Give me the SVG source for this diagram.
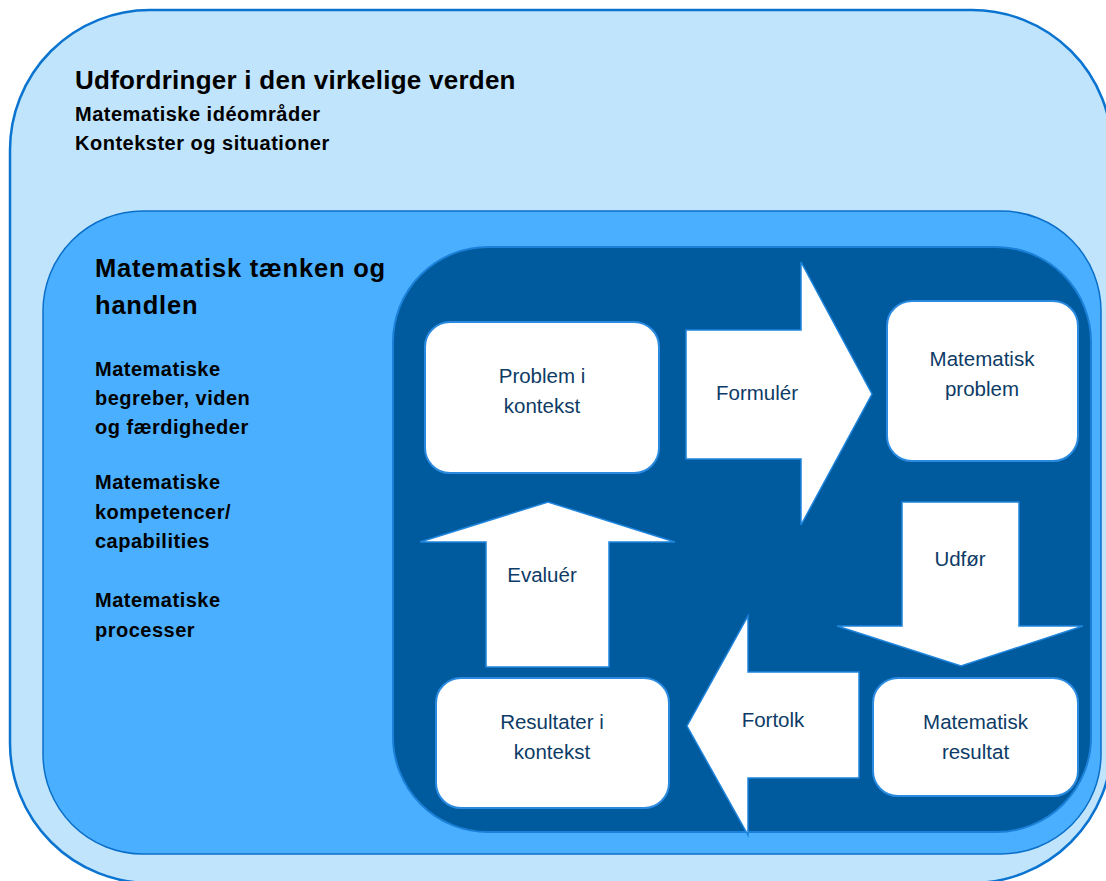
<svg xmlns="http://www.w3.org/2000/svg" width="1106" height="881" viewBox="0 0 1106 881">
<style>
.hb{font-family:"Liberation Sans",Arial,sans-serif;font-weight:bold;fill:#000}
.sub{font-size:20px;letter-spacing:0.5px}
.box{fill:#fff;stroke:#2a8ae0;stroke-width:2}
.arr{fill:#fff;stroke:#1e84dc;stroke-width:1.5}
.lbl{font-family:"Liberation Sans",Arial,sans-serif;font-size:20.5px;fill:#0d3b66;text-anchor:middle}
</style>
<g id="outer">
<rect x="10" y="10" width="1102" height="873" rx="140" ry="140" fill="#c1e4fd" stroke="#0a74d0" stroke-width="2.5"/>
<text class="hb" x="75" y="89" font-size="26" letter-spacing="0.25">Udfordringer i den virkelige verden</text>
<text class="hb sub" x="75" y="121">Matematiske idéområder</text>
<text class="hb sub" x="75" y="150">Kontekster og situationer</text>
</g>
<g id="middle">
<rect x="43" y="211" width="1058" height="643" rx="100" ry="100" fill="#4aaffe" stroke="#0a6fc8" stroke-width="1.5"/>
<text class="hb" x="95" y="277" font-size="25.5" letter-spacing="0.8">Matematisk tænken og</text>
<text class="hb" x="95" y="314" font-size="25.5" letter-spacing="0.8">handlen</text>
<text class="hb sub" x="95" y="376">Matematiske</text>
<text class="hb sub" x="95" y="405">begreber, viden</text>
<text class="hb sub" x="95" y="434">og færdigheder</text>
<text class="hb sub" x="95" y="489">Matematiske</text>
<text class="hb sub" x="95" y="519">kompetencer/</text>
<text class="hb sub" x="95" y="548">capabilities</text>
<text class="hb sub" x="95" y="607">Matematiske</text>
<text class="hb sub" x="95" y="637">processer</text>
</g>
<g id="cycle">
<rect x="393" y="247" width="698" height="585" rx="95" ry="95" fill="#005a9e" stroke="#1a80d8" stroke-width="2"/>
</g>
<g id="connectors">
<g id="formuler">
<polygon class="arr" points="686,330 801,330 801,262 872,394 801,525 801,459 686,459"/>
<text class="lbl" x="757" y="400">Formulér</text>
</g>
<g id="udfor">
<polygon class="arr" points="902,502 1019,502 1019,626 1083,626 961,666 837,626 902,626"/>
<text class="lbl" x="960" y="566">Udfør</text>
</g>
<g id="fortolk">
<polygon class="arr" points="859,672 748,672 748,616 687,726 748,835 748,778 859,778"/>
<text class="lbl" x="773" y="727">Fortolk</text>
</g>
<g id="evaluer">
<polygon class="arr" points="486,667 486,542 420,542 548,502 675,542 609,542 609,667"/>
<text class="lbl" x="542" y="582">Evaluér</text>
</g>
</g>
<g id="problem-i-kontekst">
<rect class="box" x="425" y="322" width="234" height="151" rx="25" ry="25"/>
<text class="lbl" x="542" y="383">Problem i</text>
<text class="lbl" x="542" y="413">kontekst</text>
</g>
<g id="matematisk-problem">
<rect class="box" x="887" y="301" width="191" height="160" rx="25" ry="25"/>
<text class="lbl" x="982" y="366">Matematisk</text>
<text class="lbl" x="982" y="396">problem</text>
</g>
<g id="resultater-i-kontekst">
<rect class="box" x="436" y="678" width="233" height="130" rx="25" ry="25"/>
<text class="lbl" x="552" y="729">Resultater i</text>
<text class="lbl" x="552" y="759">kontekst</text>
</g>
<g id="matematisk-resultat">
<rect class="box" x="873" y="678" width="205" height="118" rx="25" ry="25"/>
<text class="lbl" x="975.5" y="729">Matematisk</text>
<text class="lbl" x="975.5" y="759">resultat</text>
</g>
</svg>
